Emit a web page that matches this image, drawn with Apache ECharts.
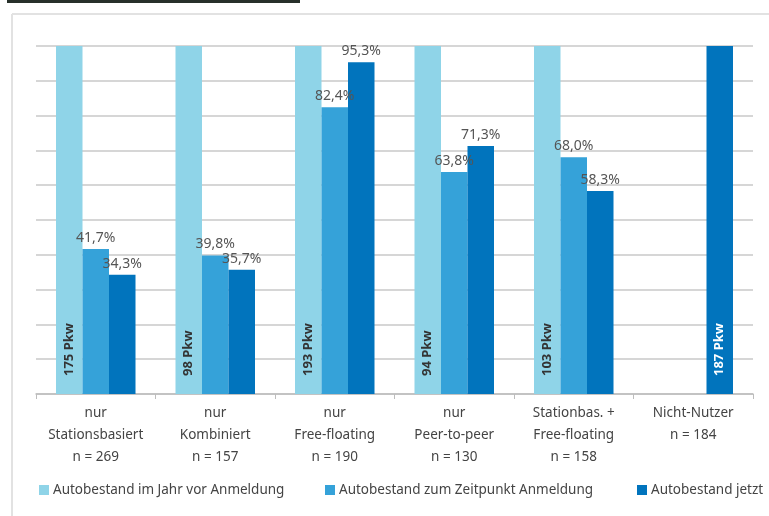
<!DOCTYPE html>
<html>
<head>
<meta charset="utf-8">
<script src="https://cdn.jsdelivr.net/npm/echarts@6/dist/echarts.min.js"></script>
<style>
  html, body { margin: 0; padding: 0; background: #fff; }
  #chart { width: 769px; height: 516px; }
</style>
</head>
<body>
<div id="chart"></div>
<script>
// Kategorien (dreizeilig)
const categories = [
  'nur\nStationsbasiert\nn = 269',
  'nur\nKombiniert\nn = 157',
  'nur\nFree-floating\nn = 190',
  'nur\nPeer-to-peer\nn = 130',
  'Stationbas. +\nFree-floating\nn = 158',
  'Nicht-Nutzer\nn = 184'
];
const seriesNames = [
  'Autobestand im Jahr vor Anmeldung',
  'Autobestand zum Zeitpunkt Anmeldung',
  'Autobestand jetzt'
];
// Werte in Prozent
const vorAnmeldung = [100, 100, 100, 100, 100, null];
const zumZeitpunkt = [41.7, 39.8, 82.4, 63.8, 68.0, null];
const jetzt = [34.3, 35.7, 95.3, 71.3, 58.3, 100];
// Pkw-Beschriftungen in den Balken
const pkwVor = ['175 Pkw', '98 Pkw', '193 Pkw', '94 Pkw', '103 Pkw', ''];
const pkwJetzt = ['', '', '', '', '', '187 Pkw'];

const colors = ['#8fd4e8', '#35a2d9', '#0174bd'];

const fmt = v => v.toFixed(1).replace('.', ',') + '%';

const pkwLabel = (txt, color) => ({
  show: true,
  position: 'insideBottom',
  rotate: 90,
  align: 'left',
  verticalAlign: 'middle',
  distance: 18,
  formatter: txt,
  color: color,
  fontSize: 13,
  fontWeight: 'bold',
  fontFamily: 'Noto Sans'
});

const pctLabel = {
  show: true,
  position: 'top',
  distance: 4,
  color: '#555',
  fontSize: 14,
  fontFamily: 'Noto Sans',
  formatter: p => fmt(p.value)
};

const chart = echarts.init(document.getElementById('chart'));

const option = {
  backgroundColor: '#fff',
  animation: false,
  textStyle: { fontFamily: 'Noto Sans' },
  graphic: [
    { type: 'rect', shape: { x: 7, y: 0, width: 293, height: 3 }, style: { fill: '#27302a' } },
    { type: 'line', shape: { x1: 12, y1: 14, x2: 769, y2: 14 }, style: { stroke: '#e2e2e2', lineWidth: 2 } },
    { type: 'line', shape: { x1: 12, y1: 14, x2: 12, y2: 516 }, style: { stroke: '#e2e2e2', lineWidth: 2 } }
  ],
  grid: { left: 36, right: 16, top: 46, bottom: 122, containLabel: false },
  legend: [0, 1, 2].map((i) => ({
    data: [seriesNames[i]],
    left: [34, 320, 632][i],
    top: 478,
    itemWidth: 10,
    itemHeight: 10,
    icon: 'rect',
    itemGap: 0,
    textStyle: { color: '#444', fontSize: 13.5, fontFamily: 'Noto Sans', padding: [0, 0, 0, -1] }
  })),
  xAxis: {
    type: 'category',
    data: categories,
    axisLine: { lineStyle: { color: '#bdbdbd', width: 1.5 } },
    axisTick: { show: true, length: 5, lineStyle: { color: '#bdbdbd' } },
    axisLabel: {
      color: '#444',
      fontSize: 13.5,
      lineHeight: 22,
      margin: 8,
      interval: 0,
      fontFamily: 'Noto Sans'
    }
  },
  yAxis: {
    type: 'value',
    min: 0,
    max: 100,
    interval: 10,
    axisLabel: { show: false },
    axisLine: { show: false },
    axisTick: { show: false },
    splitLine: { lineStyle: { color: '#c9c9c9', width: 1.5 } }
  },
  series: [
    {
      name: seriesNames[0],
      type: 'bar',
      barWidth: 26.5,
      barGap: 0,
      itemStyle: { color: colors[0] },
      data: vorAnmeldung.map((v, i) => ({ value: v, label: pkwLabel(pkwVor[i], '#333') }))
    },
    {
      name: seriesNames[1],
      type: 'bar',
      barWidth: 26.5,
      barGap: 0,
      itemStyle: { color: colors[1] },
      label: pctLabel,
      data: zumZeitpunkt
    },
    {
      name: seriesNames[2],
      type: 'bar',
      barWidth: 26.5,
      barGap: 0,
      itemStyle: { color: colors[2] },
      data: jetzt.map((v, i) => ({
        value: v,
        label: pkwJetzt[i] ? pkwLabel(pkwJetzt[i], '#fff') : pctLabel
      }))
    }
  ]
};

chart.setOption(option);
</script>
</body>
</html>
